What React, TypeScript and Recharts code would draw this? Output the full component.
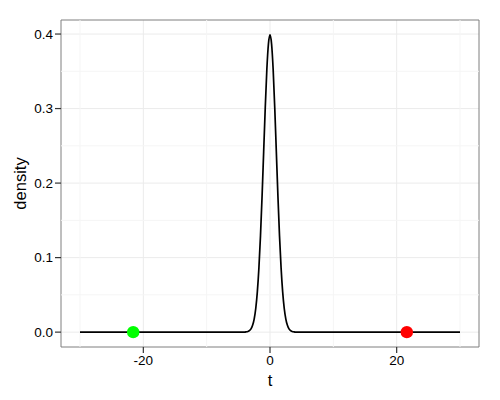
import React from "react";
import {
	ComposedChart,
	Line,
	Scatter,
	XAxis,
	YAxis,
	CartesianGrid,
	ReferenceLine,
	ReferenceArea,
} from "recharts";

// density curve (flat outside roughly -4..4)
const tValues = [
	-30, -4, -3.75, -3.5, -3.25, -3, -2.75, -2.5, -2.25, -2, -1.75, -1.5, -1.25, -1, -0.75, -0.5, -0.25, 0,
	0.25, 0.5, 0.75, 1, 1.25, 1.5, 1.75, 2, 2.25, 2.5, 2.75, 3, 3.25, 3.5, 3.75, 4, 30,
];
const densityValues = [
	0, 0.0001, 0.0004, 0.0009, 0.002, 0.0044, 0.0091, 0.0175, 0.0317, 0.054, 0.0863, 0.1295, 0.1826, 0.242,
	0.3011, 0.3521, 0.3867, 0.3989, 0.3867, 0.3521, 0.3011, 0.242, 0.1826, 0.1295, 0.0863, 0.054, 0.0317,
	0.0175, 0.0091, 0.0044, 0.002, 0.0009, 0.0004, 0.0001, 0,
];

const lowPoint = [{ t: -21.6, density: 0 }];
const highPoint = [{ t: 21.6, density: 0 }];

const xTicks = [-20, 0, 20];
const yTicks = [0, 0.1, 0.2, 0.3, 0.4];
const xMinor = [-30, -10, 10, 30];
const yMinor = [0.05, 0.15, 0.25, 0.35];

const xDomain: [number, number] = [-33, 33];
const yDomain: [number, number] = [-0.01995, 0.41884];

const curve = tValues.map((t, i) => ({ t, density: densityValues[i] }));

const font = "'Liberation Sans', Arial, sans-serif";

const dot = (color: string) => (props: any) => <circle cx={props.cx} cy={props.cy} r={6.2} fill={color} />;

export default function App() {
	return (
		<div style={{ position: "absolute", left: 0, top: 0, background: "#fff", fontFamily: font }}>
			<ComposedChart width={500} height={400} margin={{ top: 20, right: 21, left: 0, bottom: 0 }}>
				<CartesianGrid
					stroke="#ebebeb"
					strokeWidth={1}
					horizontalValues={yTicks}
					verticalValues={xTicks}
				/>
				{xMinor.map((x) => (
					<ReferenceLine key={`vx${x}`} x={x} stroke="#f5f5f5" strokeWidth={1} />
				))}
				{yMinor.map((y) => (
					<ReferenceLine key={`hy${y}`} y={y} stroke="#f5f5f5" strokeWidth={1} />
				))}
				<XAxis
					type="number"
					dataKey="t"
					domain={xDomain}
					ticks={xTicks}
					allowDataOverflow
					axisLine={false}
					tickLine={{ stroke: "#333", strokeWidth: 1.2 }}
					tickSize={6}
					tick={{ fill: "#000", fontSize: 13.5, fontFamily: font }}
					height={53}
					label={{ value: "t", position: "insideBottom", offset: 14, fill: "#000", fontSize: 16.5, fontFamily: font }}
				/>
				<YAxis
					type="number"
					dataKey="density"
					domain={yDomain}
					ticks={yTicks}
					allowDataOverflow
					axisLine={false}
					tickLine={{ stroke: "#333", strokeWidth: 1.2 }}
					tickSize={6}
					tickFormatter={(v: number) => v.toFixed(1)}
					tick={{ fill: "#000", fontSize: 13.5, fontFamily: font }}
					width={61}
					label={{
						value: "density",
						angle: -90,
						position: "insideLeft",
						offset: 20,
						fill: "#000",
						fontSize: 16.5,
						fontFamily: font,
						style: { textAnchor: "middle" },
					}}
				/>
				<ReferenceArea
					x1={xDomain[0]}
					x2={xDomain[1]}
					y1={yDomain[0]}
					y2={yDomain[1]}
					fill="none"
					stroke="#7f7f7f"
					strokeWidth={1}
				/>
				<Line
					data={curve}
					dataKey="density"
					type="monotone"
					stroke="#000"
					strokeWidth={1.7}
					dot={false}
					isAnimationActive={false}
				/>
				<Scatter data={lowPoint} dataKey="density" shape={dot("#00ff00")} isAnimationActive={false} />
				<Scatter data={highPoint} dataKey="density" shape={dot("#ff0000")} isAnimationActive={false} />
			</ComposedChart>
		</div>
	);
}
